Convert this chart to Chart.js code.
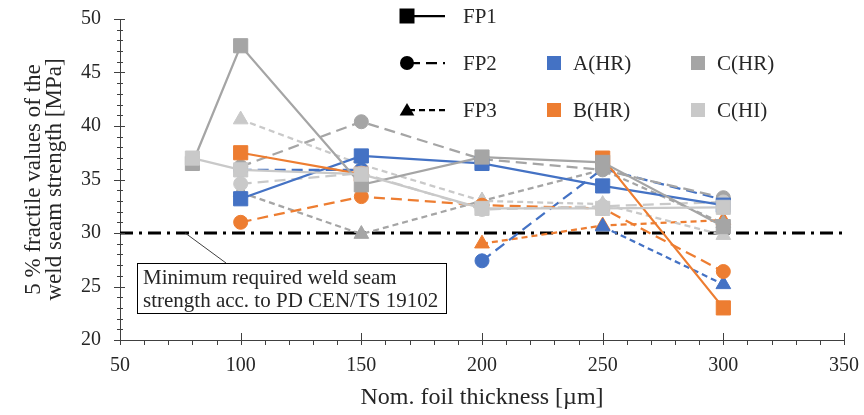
<!DOCTYPE html>
<html>
<head>
<meta charset="utf-8">
<script src="https://cdn.jsdelivr.net/npm/chart.js@4.4.1/dist/chart.umd.min.js"></script>
<style>
  html, body { margin: 0; padding: 0; background: #fff; }
  #chart { display: block; }
</style>
</head>
<body>
<canvas id="chart" width="864" height="415"></canvas>
<script>
// nominal foil thickness [µm]
const thickness = [80, 100, 150, 200, 250, 300];

// 5 % fractile values [MPa], FP1
const fp1A = [null, 33.2, 37.2, 36.5, 34.4, 32.6];
const fp1B = [null, 37.5, 35.5, null, 37.0, 23.0];
const fp1CHR = [36.5, 47.5, 34.5, 37.1, 36.6, 30.6];
const fp1CHI = [37.0, 35.9, 35.5, 32.3, 32.3, 32.4];

// FP2
const fp2A = [null, 35.9, 35.9, 27.4, 36.0, 33.1];
const fp2B = [null, 31.0, 33.4, 32.6, 32.3, 26.4];
const fp2CHR = [null, 36.2, 40.4, 36.9, 35.9, 33.3];
const fp2CHI = [null, 34.6, 35.6, 32.2, 32.5, 32.9];

// FP3
const fp3A = [null, null, null, null, 30.6, 25.2];
const fp3B = [null, null, null, 29.0, 30.7, 31.2];
const fp3CHR = [null, 33.8, 29.9, 33.0, 35.9, 30.9];
const fp3CHI = [null, 40.6, 36.4, 33.0, 32.7, 29.8];

// no line drawn between these two thicknesses for A(HR) FP2
const fp2AGap = [150, 200];

const minStrength = 30;
const xRange = [50, 350];
const yRange = [20, 50];

const serif = "'Liberation Serif', 'Times New Roman', serif";
const textColor = '#262626';
const axisColor = '#404040';
const colA = '#4472C4', colB = '#ED7D31', colCHR = '#A5A5A5', colCHI = '#C9C9C9';

const fpStyle = {
  FP1: { dash: [], point: 'rect', radius: 10 },
  FP2: { dash: [11, 6], point: 'circle', radius: 7 },
  FP3: { dash: [6, 4], point: 'triangle', radius: 8.5 }
};

function toPoints(values) {
  return thickness.map((t, i) => ({ x: t, y: values[i] }));
}

function series(fp, values, color, label) {
  const s = fpStyle[fp];
  return {
    label: label + ' ' + fp,
    data: toPoints(values),
    borderColor: color,
    backgroundColor: color,
    borderWidth: 2.25,
    borderDash: s.dash,
    pointStyle: s.point,
    pointRadius: s.radius,
    pointBorderWidth: 1,
    pointBorderColor: color,
    pointBackgroundColor: color,
    spanGaps: false,
    tension: 0
  };
}

const aFp2 = series('FP2', fp2A, colA, 'A(HR)');
aFp2.segment = {
  borderColor: c => (c.p0.parsed.x === fp2AGap[0] && c.p1.parsed.x === fp2AGap[1]) ? 'rgba(0,0,0,0)' : colA
};

// bottom first
const drawOrder = [
  {
    label: 'min',
    data: [{ x: xRange[0], y: minStrength }, { x: xRange[1], y: minStrength }],
    borderColor: '#000',
    borderWidth: 3,
    borderDash: [13, 6, 3, 6],
    pointRadius: 0
  },
  series('FP3', fp3B, colB, 'B(HR)'),
  series('FP3', fp3A, colA, 'A(HR)'),
  series('FP3', fp3CHR, colCHR, 'C(HR)'),
  series('FP3', fp3CHI, colCHI, 'C(HI)'),
  aFp2,
  series('FP2', fp2B, colB, 'B(HR)'),
  series('FP2', fp2CHR, colCHR, 'C(HR)'),
  series('FP2', fp2CHI, colCHI, 'C(HI)'),
  series('FP1', fp1A, colA, 'A(HR)'),
  series('FP1', fp1B, colB, 'B(HR)'),
  series('FP1', fp1CHR, colCHR, 'C(HR)'),
  series('FP1', fp1CHI, colCHI, 'C(HI)')
];
// chart.js paints dataset 0 last
const datasets = drawOrder.slice().reverse();

function marker(ctx, style, x, y, r) {
  ctx.beginPath();
  if (style === 'rect') {
    ctx.rect(x - r, y - r, 2 * r, 2 * r);
  } else if (style === 'circle') {
    ctx.arc(x, y, r, 0, Math.PI * 2);
  } else {
    ctx.moveTo(x, y - r);
    ctx.lineTo(x + r * 1.05, y + r * 0.8);
    ctx.lineTo(x - r * 1.05, y + r * 0.8);
    ctx.closePath();
  }
  ctx.fill();
}

// fixed plot box: no extra label padding from the scales
function fixBox(size) {
  return function (s) {
    if (s.isHorizontal()) s.height = size; else s.width = size;
    s.paddingTop = 0; s.paddingBottom = 0; s.paddingLeft = 0; s.paddingRight = 0;
  };
}

const decor = {
  id: 'decor',
  afterDraw(chart) {
    const { ctx, chartArea: a, scales: { x, y } } = chart;
    ctx.save();

    // tick marks (major + minor)
    ctx.strokeStyle = axisColor;
    ctx.lineWidth = 1;
    ctx.beginPath();
    for (let v = yRange[0]; v <= yRange[1]; v += 1) {
      const py = Math.round(y.getPixelForValue(v)) + 0.5;
      const major = v % 5 === 0;
      ctx.moveTo(a.left - (major ? 6 : 3), py);
      ctx.lineTo(a.left + (major ? 5 : 3), py);
    }
    for (let v = xRange[0]; v <= xRange[1]; v += 10) {
      const px = Math.round(x.getPixelForValue(v)) + 0.5;
      const major = v % 50 === 0;
      ctx.moveTo(px, a.bottom - (major ? 7 : 0));
      ctx.lineTo(px, a.bottom + 5);
    }
    ctx.stroke();

    // annotation
    const lx = x.getPixelForValue(77), ly = y.getPixelForValue(minStrength);
    ctx.beginPath();
    ctx.moveTo(lx, ly);
    ctx.lineTo(226, 263);
    ctx.strokeStyle = '#404040';
    ctx.stroke();
    ctx.fillStyle = '#fff';
    ctx.fillRect(137, 263, 309, 50);
    ctx.strokeStyle = '#000';
    ctx.strokeRect(137.5, 263.5, 309, 50);
    ctx.fillStyle = textColor;
    ctx.font = '21px ' + serif;
    ctx.textBaseline = 'alphabetic';
    ctx.textAlign = 'left';
    ctx.fillText('Minimum required weld seam', 143, 284);
    ctx.fillText('strength acc. to PD CEN/TS 19102', 143, 307);

    // legend
    ctx.textBaseline = 'middle';
    ctx.strokeStyle = '#000';
    ctx.lineWidth = 2.25;
    const rows = [16, 63, 110];
    ['FP1', 'FP2', 'FP3'].forEach((fp, i) => {
      const s = fpStyle[fp];
      const ry = rows[i];
      ctx.setLineDash(s.dash);
      ctx.beginPath();
      ctx.moveTo(409, ry);
      ctx.lineTo(445, ry);
      ctx.stroke();
      ctx.setLineDash([]);
      ctx.fillStyle = '#000';
      marker(ctx, s.point, 407, ry, s.point === 'rect' ? 7.5 : 7);
      ctx.fillStyle = textColor;
      ctx.fillText(fp, 463, ry + 1);
    });
    const swatches = [
      ['A(HR)', colA, 554, rows[1]], ['B(HR)', colB, 554, rows[2]],
      ['C(HR)', colCHR, 698, rows[1]], ['C(HI)', colCHI, 698, rows[2]]
    ];
    swatches.forEach(([t, c, sx, sy]) => {
      ctx.fillStyle = c;
      ctx.fillRect(sx - 7, sy - 7, 14, 14);
      ctx.fillStyle = textColor;
      ctx.fillText(t, sx + 19, sy + 1);
    });
    ctx.restore();
  }
};

new Chart(document.getElementById('chart'), {
  type: 'line',
  data: { datasets: datasets },
  options: {
    responsive: false,
    animation: false,
    devicePixelRatio: 1,
    layout: { padding: { top: 19, right: 20, left: 0, bottom: 0 } },
    plugins: { legend: { display: false }, tooltip: { enabled: false } },
    scales: {
      x: {
        type: 'linear',
        min: xRange[0],
        max: xRange[1],
        afterFit: fixBox(75),
        ticks: { stepSize: 50, color: textColor, font: { family: serif, size: 20 }, padding: 14, maxRotation: 0 },
        grid: { display: false, drawTicks: false },
        border: { display: true, color: axisColor, width: 1 },
        title: {
          display: true,
          text: 'Nom. foil thickness [µm]',
          color: textColor,
          font: { family: serif, size: 24 },
          padding: { top: 0, bottom: 3 }
        }
      },
      y: {
        min: yRange[0],
        max: yRange[1],
        afterFit: fixBox(120),
        ticks: { stepSize: 5, color: textColor, font: { family: serif, size: 20 }, padding: 19 },
        grid: { display: false, drawTicks: false },
        border: { display: true, color: axisColor, width: 1 },
        title: {
          display: true,
          text: ['5 % fractile values of the', 'weld seam strength [MPa]'],
          color: textColor,
          font: { family: serif, size: 23, lineHeight: 0.9 },
          padding: { top: 24, bottom: 0 }
        }
      }
    }
  },
  plugins: [decor]
});
</script>
</body>
</html>
